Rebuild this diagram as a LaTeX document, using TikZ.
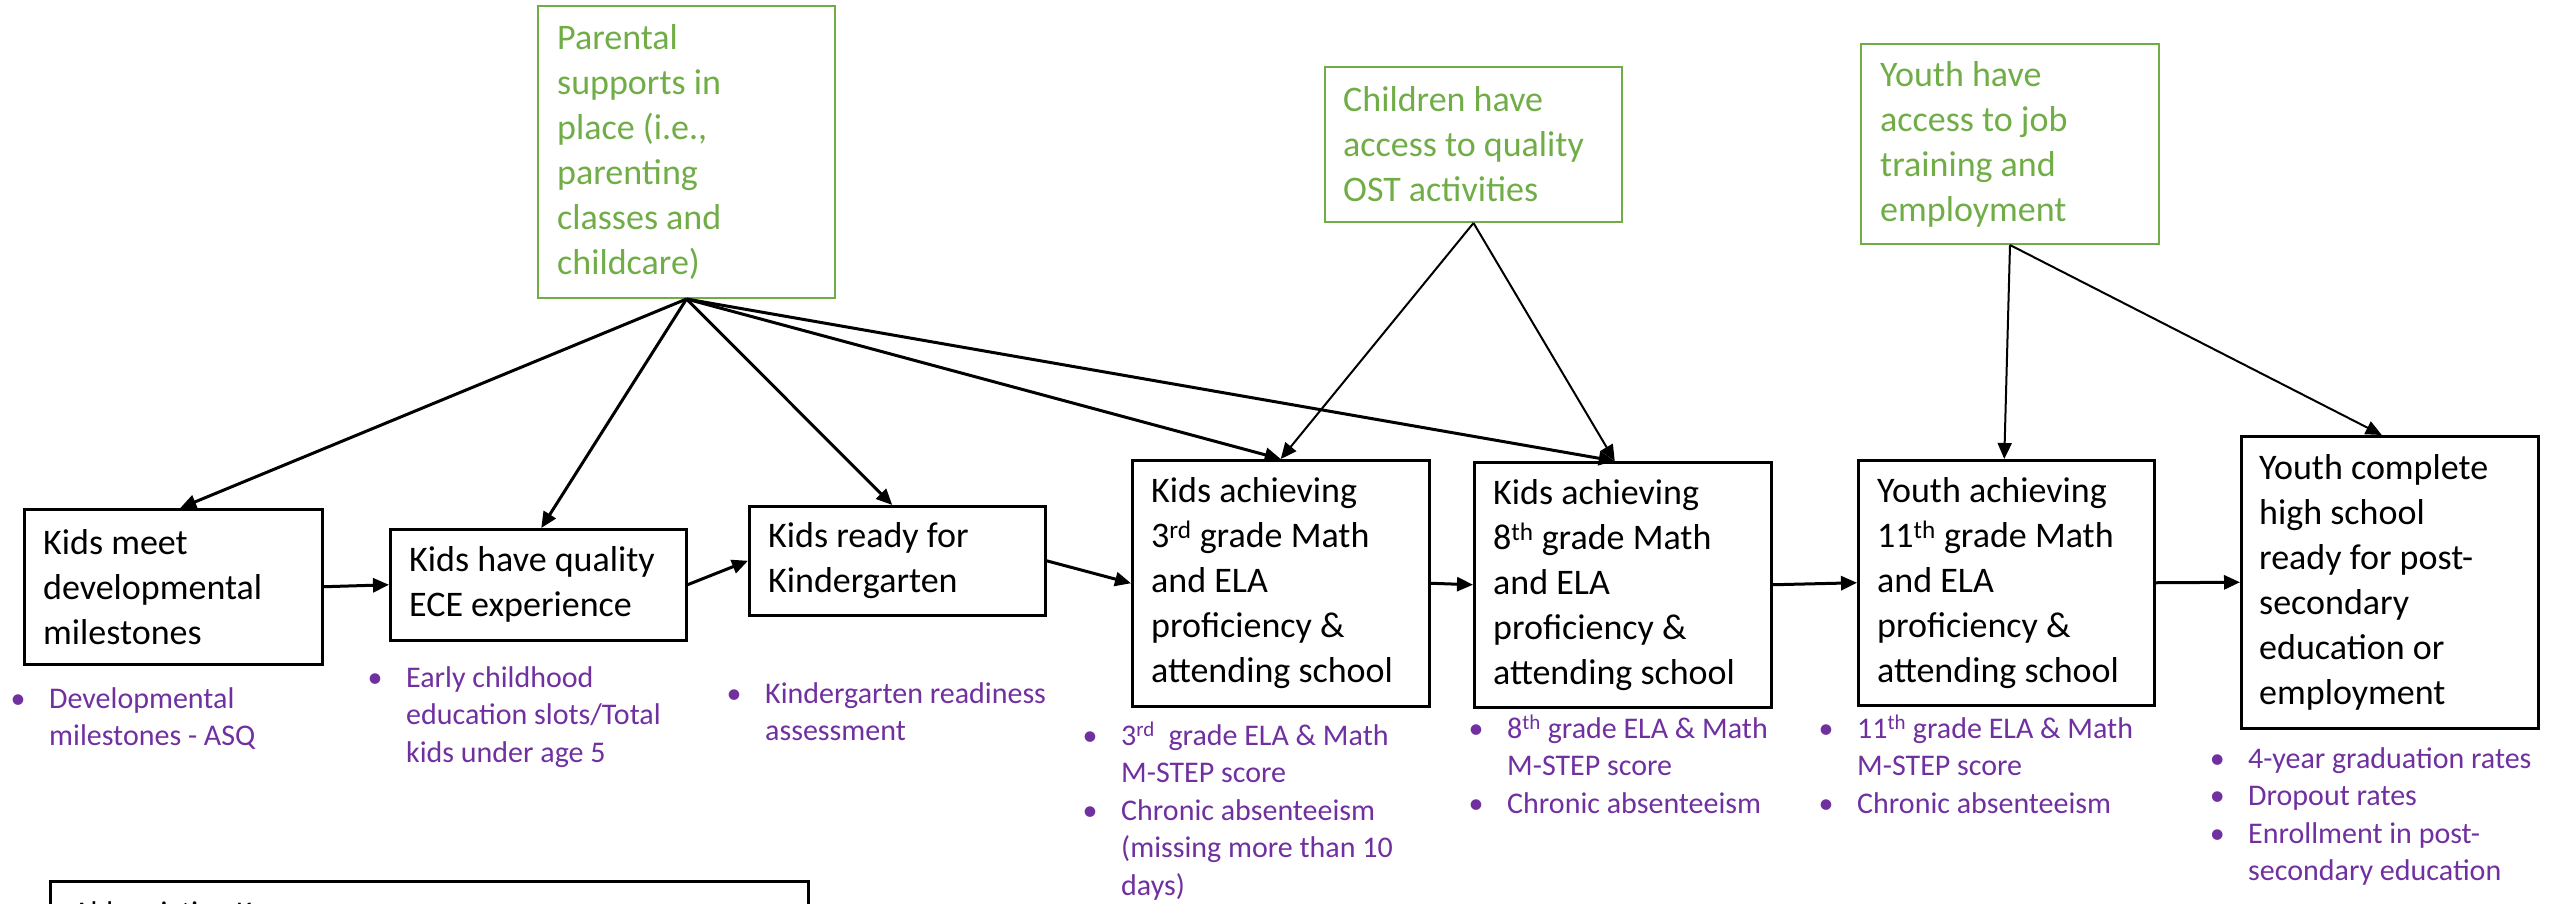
\documentclass[tikz,border=0pt]{standalone}
\usepackage{fontspec}
\setmainfont{Carlito}
\usetikzlibrary{arrows.meta}
\definecolor{grn}{HTML}{70AD47}
\definecolor{pur}{HTML}{7030A0}
\newcommand\bulx{\makebox[31pt][l]{\makebox[0pt][c]{•}}}
\tikzset{
  box/.style={draw=black, line width=2.5pt, anchor=north west, inner sep=0pt},
  gbox/.style={draw=grn, line width=2pt, anchor=north west, inner sep=0pt},
  btext/.style={anchor=west, align=left, inner sep=0pt, font=\fontsize{36}{45}\selectfont},
  gtext/.style={btext, text=grn},
  mtext/.style={anchor=north west, inner sep=0pt, text=pur, font=\fontsize{30}{37.5}\selectfont},
  arr/.style={line width=3pt, -{Triangle[length=16pt,width=14pt]}},
  tarr/.style={line width=2pt, -{Triangle[length=16pt,width=14pt]}},
}
\begin{document}
\begin{tikzpicture}[x=1pt,y=-1pt]
\useasboundingbox (0,0) rectangle (2552,903);
\clip (0,0) rectangle (2552,903);
% main boxes
\node[box, minimum width=298pt, minimum height=155pt] (b1) at (23,508) {};
\node[box, minimum width=296pt, minimum height=111pt] (b2) at (389,528) {};
\node[box, minimum width=296pt, minimum height=109pt] (b3) at (748,505) {};
\node[box, minimum width=297pt, minimum height=246pt] (b4) at (1131,459) {};
\node[box, minimum width=297pt, minimum height=245pt] (b5) at (1473,461) {};
\node[box, minimum width=296pt, minimum height=245pt] (b6) at (1857,459) {};
\node[box, minimum width=297pt, minimum height=292pt] (b7) at (2240,435) {};
% green boxes
\node[gbox, minimum width=297pt, minimum height=292pt] (par) at (537,5) {};
\node[gbox, minimum width=297pt, minimum height=155pt] (ost) at (1324,66) {};
\node[gbox, minimum width=298pt, minimum height=200pt] (job) at (1860,43) {};
% abbreviation box
\node[box, minimum width=758pt, minimum height=200pt] (abbr) at (49,880) {};
\node[anchor=base west, inner sep=0pt, font=\fontsize{30}{36}\selectfont] (abbrt) at (73,922) {Abbreviation Key};
% box texts
\node[btext] (t1) at ([xshift=20pt]b1.west) {Kids meet\\developmental\\milestones};
\node[btext] (t2) at ([xshift=20pt]b2.west) {Kids have quality\\ECE experience};
\node[btext] (t3) at ([xshift=20pt]b3.west) {Kids ready for\\Kindergarten};
\node[btext] (t4) at ([xshift=20pt]b4.west) {Kids achieving\\3\textsuperscript{rd} grade Math\\and ELA\\proficiency \&\\attending school};
\node[btext] (t5) at ([xshift=20pt]b5.west) {Kids achieving\\8\textsuperscript{th} grade Math\\and ELA\\proficiency \&\\attending school};
\node[btext] (t6) at ([xshift=20pt]b6.west) {Youth achieving\\11\textsuperscript{th} grade Math\\and ELA\\proficiency \&\\attending school};
\node[btext] (t7) at ([xshift=19pt]b7.west) {Youth complete\\high school\\ready for post-\\secondary\\education or\\employment};
\node[gtext] (gt1) at ([xshift=20pt]par.west) {Parental\\supports in\\place (i.e.,\\parenting\\classes and\\childcare)};
\node[gtext] (gt2) at ([xshift=19pt]ost.west) {Children have\\access to quality\\OST activities};
\node[gtext] (gt3) at ([xshift=20pt]job.west) {Youth have\\access to job\\training and\\employment};
% measures
\node[mtext] (m1) at (18,682) {\begin{tabular}{@{}l@{}}\bulx Developmental\\\hspace*{31pt}milestones - ASQ\end{tabular}};
\node[mtext] (m2) at (375,661) {\begin{tabular}{@{}l@{}}\bulx Early childhood\\\hspace*{31pt}education slots/Total\\\hspace*{31pt}kids under age 5\end{tabular}};
\node[mtext] (m3) at (734,677) {\begin{tabular}{@{}l@{}}\bulx Kindergarten readiness\\\hspace*{31pt}assessment\end{tabular}};
\node[mtext] (m4) at (1090,719) {\begin{tabular}{@{}l@{}}\bulx 3\textsuperscript{rd}\ \ grade ELA \& Math\\\hspace*{31pt}M-STEP score\\\bulx Chronic absenteeism\\\hspace*{31pt}(missing more than 10\\\hspace*{31pt}days)\end{tabular}};
\node[mtext] (m5) at (1476,712) {\begin{tabular}{@{}l@{}}\bulx 8\textsuperscript{th} grade ELA \& Math\\\hspace*{31pt}M-STEP score\\\bulx Chronic absenteeism\end{tabular}};
\node[mtext] (m6) at (1826,712) {\begin{tabular}{@{}l@{}}\bulx 11\textsuperscript{th} grade ELA \& Math\\\hspace*{31pt}M-STEP score\\\bulx Chronic absenteeism\end{tabular}};
\node[mtext] (m7) at (2217,742) {\begin{tabular}{@{}l@{}}\bulx 4-year graduation rates\\\bulx Dropout rates\\\bulx Enrollment in post-\\\hspace*{31pt}secondary education\end{tabular}};
% horizontal arrows
\draw[arr] (b1.east) -- (b2.west);
\draw[arr] (b2.east) -- (b3.west);
\draw[arr] (b3.east) -- (b4.west);
\draw[arr] (b4.east) -- (b5.west);
\draw[arr] (b5.east) -- (b6.west);
\draw[arr] (b6.east) -- (b7.west);
% parental arrows
\draw[arr] (par.south) -- ([xshift=7pt]b1.north);
\draw[arr] (par.south) -- ([xshift=3pt]b2.north);
\draw[arr] (par.south) -- ([xshift=-5pt]b3.north);
\draw[arr] (par.south) -- (b4.north);
\draw[arr] (par.south) -- ([xshift=-8pt]b5.north);
% OST arrows
\draw[tarr] (ost.south) -- (b4.north);
\draw[tarr] (ost.south) -- ([xshift=-8pt]b5.north);
% job arrows
\draw[tarr] (job.south) -- ([xshift=-2pt]b6.north);
\draw[tarr] (job.south) -- ([xshift=-8pt]b7.north);
\end{tikzpicture}
\end{document}
